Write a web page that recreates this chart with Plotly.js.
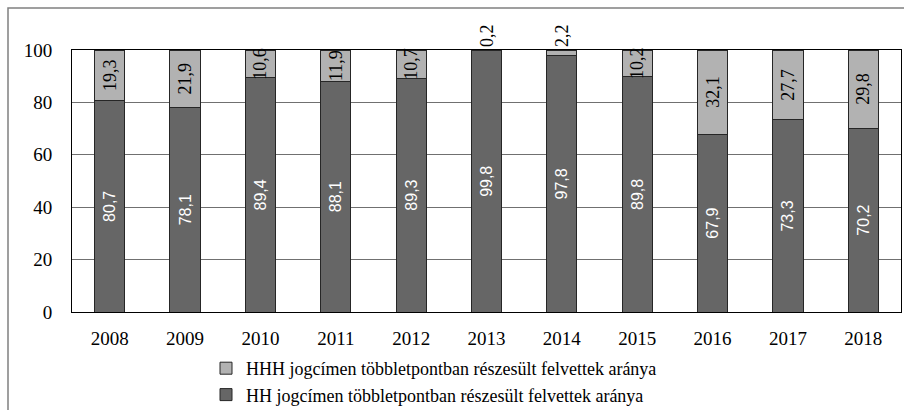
<!DOCTYPE html>
<html>
<head>
<meta charset="utf-8">
<script src="https://cdn.plot.ly/plotly-3.0.1.min.js"></script>
<style>
html,body{margin:0;padding:0;background:#fff;}
#chart{width:904px;height:410px;}
</style>
</head>
<body>
<div id="chart"></div>
<script>
const years = ['2008','2009','2010','2011','2012','2013','2014','2015','2016','2017','2018'];
const hhValues = [80.7, 78.1, 89.4, 88.1, 89.3, 99.8, 97.8, 89.8, 67.9, 73.3, 70.2];
const hhhValues = [19.3, 21.9, 10.6, 11.9, 10.7, 0.2, 2.2, 10.2, 32.1, 27.7, 29.8];
const hhName = 'HH jogcímen többletpontban részesült felvettek aránya';
const hhhName = 'HHH jogcímen többletpontban részesült felvettek aránya';
const yTicks = [0, 20, 40, 60, 80, 100];

const fmt = v => v.toFixed(1).replace('.', ',');
const serif = '"Liberation Serif", "DejaVu Serif", serif';
const sans = '"Liberation Sans", Arial, sans-serif';

// the stacked total never goes beyond the 100 % top of the axis (bar clipped there, label keeps the value)
const hhhShown = hhhValues.map((v, i) => Math.min(v, 100 - hhValues[i]));

const hhTrace = {
  type: 'bar', name: hhName, x: years, y: hhValues,
  text: hhValues.map(fmt), textposition: 'inside', textangle: -90,
  insidetextanchor: 'middle', constraintext: 'none',
  insidetextfont: {family: sans, size: 16, color: '#ffffff'},
  marker: {color: '#666666', line: {color: '#262626', width: 1}},
  hoverinfo: 'skip'
};
const hhhTrace = {
  type: 'bar', name: hhhName, x: years, y: hhhShown,
  text: hhhValues.map(fmt),
  textposition: hhhValues.map(v => v < 5 ? 'outside' : 'inside'),
  textangle: -90, insidetextanchor: 'middle', constraintext: 'none',
  insidetextfont: {family: serif, size: 18, color: '#000000'},
  outsidetextfont: {family: serif, size: 18, color: '#000000'},
  cliponaxis: false,
  marker: {color: '#b2b2b2', line: {color: '#262626', width: 1}},
  hoverinfo: 'skip'
};

const plotL = 72, plotT = 50, plotR = 901, plotB = 312;
const W = 904, H = 410;
const pw = plotR - plotL, ph = plotB - plotT;
const px = x => (x - plotL) / pw;
const py = y => (plotB - y) / ph;

const layout = {
  width: W, height: H,
  margin: {l: plotL, r: W - plotR, t: plotT, b: H - plotB, pad: 0, autoexpand: false},
  paper_bgcolor: '#ffffff', plot_bgcolor: '#ffffff',
  barmode: 'stack', bargap: 0.6,
  font: {family: serif, size: 18, color: '#000000'},
  showlegend: true,
  legend: {
    xref: 'container', yref: 'container',
    x: 206 / W, y: 1 - 350 / H, xanchor: 'left', yanchor: 'top',
    traceorder: 'reversed',
    font: {family: serif, size: 18, color: '#000000'},
    itemwidth: 30, tracegroupgap: 0, bgcolor: 'rgba(0,0,0,0)'
  },
  xaxis: {
    type: 'category', showgrid: false, zeroline: false,
    showline: true, linecolor: '#000000', linewidth: 1, mirror: true,
    ticks: 'outside', ticklen: 9, tickcolor: 'rgba(0,0,0,0)',
    tickfont: {family: serif, size: 19, color: '#000000'}
  },
  yaxis: {
    range: [0, 100], tickvals: yTicks, ticktext: yTicks.map(String),
    showgrid: true, gridcolor: '#707070', gridwidth: 1,
    zeroline: false, showline: true, linecolor: '#000000', linewidth: 1, mirror: true,
    ticks: 'outside', ticklen: 15, tickcolor: 'rgba(0,0,0,0)',
    tickfont: {family: serif, size: 19, color: '#000000'}
  },
  shapes: [{
    type: 'rect', xref: 'paper', yref: 'paper',
    x0: px(8), x1: px(1100), y0: py(700), y1: py(8),
    line: {color: '#808080', width: 1.5}, fillcolor: 'rgba(0,0,0,0)', layer: 'below'
  }]
};

Plotly.newPlot('chart', [hhTrace, hhhTrace], layout, {displayModeBar: false, staticPlot: true});
</script>
</body>
</html>
